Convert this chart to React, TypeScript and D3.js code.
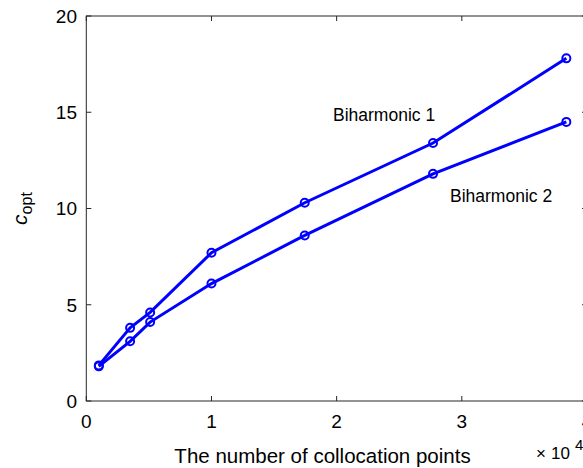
import React from "react";
import * as d3 from "d3";

// Number of collocation points (×10^4)
const points = [0.1, 0.35, 0.51, 1.0, 1.745, 2.77, 3.835];
// Optimal shape parameter for each method
const biharmonic1 = [1.85, 3.8, 4.6, 7.7, 10.3, 13.4, 17.8];
const biharmonic2 = [1.8, 3.1, 4.1, 6.1, 8.6, 11.8, 14.5];
const xTicks = [0, 1, 2, 3, 4];
const yTicks = [0, 5, 10, 15, 20];

const W = 583;
const H = 468;
const FONT = "'Liberation Sans', Arial, Helvetica, sans-serif";
const BLUE = "#0000ff";
const AXIS = "#262626";

export default function App() {
  const x = d3.scaleLinear().domain([0, 4]).range([86.3, 587]);
  const y = d3.scaleLinear().domain([0, 20]).range([401, 16]);
  const line = d3
    .line<number>()
    .x((_, i) => x(points[i]))
    .y((d) => y(d));

  const [x0, x1] = x.range();
  const [y0, y1] = y.range();
  const tick = 5;

  const series = [biharmonic1, biharmonic2];

  return (
    <svg
      width={W}
      height={H}
      style={{ position: "absolute", left: 0, top: 0, background: "#fff" }}
      fontFamily={FONT}
    >
      <rect width={W} height={H} fill="#fff" />
      {/* axes box */}
      <rect
        x={x0}
        y={y1}
        width={x1 - x0}
        height={y0 - y1}
        fill="none"
        stroke={AXIS}
        strokeWidth={1}
      />
      {xTicks.map((t) => (
        <g key={"xt" + t}>
          <line x1={x(t)} x2={x(t)} y1={y0} y2={y0 - tick} stroke={AXIS} />
          <line x1={x(t)} x2={x(t)} y1={y1} y2={y1 + tick} stroke={AXIS} />
          <text x={x(t)} y={428} textAnchor="middle" fontSize={19} fill="#000">
            {t}
          </text>
        </g>
      ))}
      {yTicks.map((t) => (
        <g key={"yt" + t}>
          <line x1={x0} x2={x0 + tick} y1={y(t)} y2={y(t)} stroke={AXIS} />
          <line x1={x1} x2={x1 - tick} y1={y(t)} y2={y(t)} stroke={AXIS} />
          <text
            x={77}
            y={y(t)}
            dy="0.36em"
            textAnchor="end"
            fontSize={19}
            fill="#000"
          >
            {t}
          </text>
        </g>
      ))}
      {/* data */}
      {series.map((s, k) => (
        <g key={"s" + k}>
          <path d={line(s) ?? ""} fill="none" stroke={BLUE} strokeWidth={3} />
          {s.map((v, i) => (
            <circle
              key={i}
              cx={x(points[i])}
              cy={y(v)}
              r={4}
              fill="none"
              stroke={BLUE}
              strokeWidth={2}
            />
          ))}
        </g>
      ))}
      <text x={333} y={121} fontSize={17.5} fill="#000">
        Biharmonic 1
      </text>
      <text x={450} y={202} fontSize={17.5} fill="#000">
        Biharmonic 2
      </text>
      {/* axis labels */}
      <text x={322.5} y={463} textAnchor="middle" fontSize={20.5} fill="#000">
        The number of collocation points
      </text>
      <text x={536} y={459} fontSize={17} fill="#000">
        ×
      </text>
      <text x={551} y={459} fontSize={17} fill="#000">
        10
      </text>
      <text x={575} y={450} fontSize={15} fill="#000">
        4
      </text>
      <text
        transform={`translate(27, ${(y0 + y1) / 2}) rotate(-90)`}
        textAnchor="middle"
        fontSize={21}
        fill="#000"
      >
        <tspan fontStyle="italic">c</tspan>
        <tspan dy={5} fontSize={16}>
          opt
        </tspan>
      </text>
    </svg>
  );
}
